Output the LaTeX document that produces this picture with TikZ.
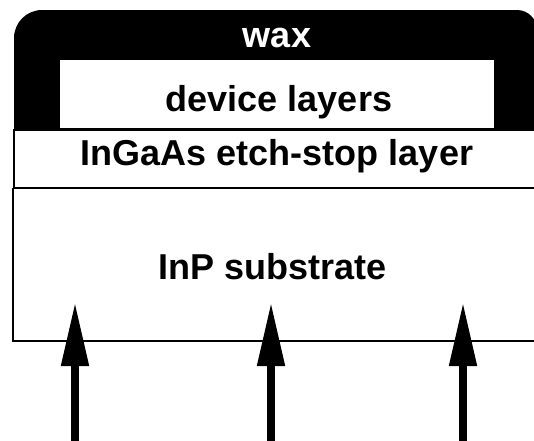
\documentclass[tikz,border=0pt]{standalone}
\usepackage{fontspec}
\setmainfont{Liberation Sans}
\usetikzlibrary{arrows.meta}
\tikzset{
  lbl/.style={anchor=base, font=\bfseries\fontsize{36}{40}\selectfont, inner sep=0pt},
  layerline/.style={draw=black, line width=1.6pt},
  beam/.style={line width=8pt, -{Triangle[length=64pt,width=26pt]}}
}
\begin{document}
\begin{tikzpicture}[x=1pt,y=-1pt]
\useasboundingbox (0,0) rectangle (534,440);
% wax
\fill[black] (14,131) [rounded corners=28pt] -- (14,10) [rounded corners=20pt] -- (537,10) [sharp corners] -- (537,131) -- cycle;
% device layers
\draw[fill=white, line width=1pt] (59,59) rectangle (494,128);
% etch-stop layer
\draw[layerline, fill=white] (14,130) rectangle (545,188);
% substrate
\draw[layerline] (13,188) -- (13,341) -- (545,341);
% labels
\node[lbl, text=white] (wax) at (277,47) {wax};
\node[lbl] (dev) at (279,111) {device layers};
\node[lbl] (etch) at (277,165) {InGaAs etch-stop layer};
\node[lbl] (sub) at (273,279) {InP substrate};
% arrows
\coordinate (a1s) at (75,445); \coordinate (a1e) at (75,302);
\coordinate (a2s) at (271,445); \coordinate (a2e) at (271,302);
\coordinate (a3s) at (463,445); \coordinate (a3e) at (463,302);
\draw[beam] (a1s) -- (a1e);
\draw[beam] (a2s) -- (a2e);
\draw[beam] (a3s) -- (a3e);
\end{tikzpicture}
\end{document}
